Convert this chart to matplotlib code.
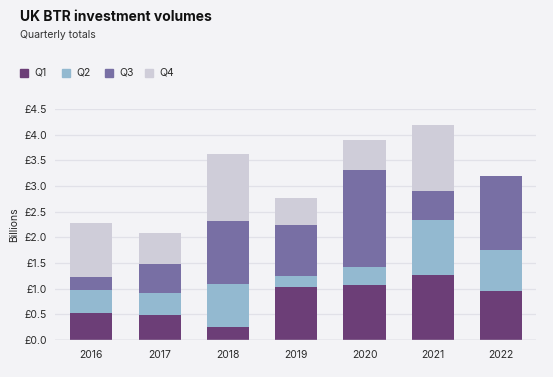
import matplotlib
matplotlib.use("Agg")
import matplotlib.pyplot as plt
from matplotlib.patches import Rectangle

# ── Data (billions £) ──────────────────────────────────────────────────
YEARS = ["2016", "2017", "2018", "2019", "2020", "2021", "2022"]
Q1 = [0.53, 0.48, 0.25, 1.04, 1.08, 1.27, 0.95]
Q2 = [0.44, 0.44, 0.85, 0.21, 0.34, 1.07, 0.80]
Q3 = [0.26, 0.57, 1.22, 0.99, 1.89, 0.56, 1.44]
Q4 = [1.04, 0.60, 1.30, 0.53, 0.59, 1.29, 0.00]
SERIES = ["Q1", "Q2", "Q3", "Q4"]
YTICKS = [0.0, 0.5, 1.0, 1.5, 2.0, 2.5, 3.0, 3.5, 4.0, 4.5]

COLORS = ["#6c3e77", "#93b9d0", "#786fa4", "#cfcdd9"]
BG = "#f3f3f6"
plt.rcParams["font.family"] = ["Inter", "DejaVu Sans"]

fig = plt.figure(figsize=(5.53, 3.77), dpi=100, facecolor=BG)
W, H = 553, 377
ax = fig.add_axes([55 / W, 1 - 340 / H, (536 - 55) / W, (340 - 109) / H])
ax.set_facecolor(BG)

x = range(len(YEARS))
bottom = [0.0] * len(YEARS)
for name, vals, col in zip(SERIES, [Q1, Q2, Q3, Q4], COLORS):
    ax.bar(x, vals, bottom=bottom, width=0.615, color=col, label=name, zorder=3)
    bottom = [b + v for b, v in zip(bottom, vals)]

ax.set_xlim(-0.53, 6.51)
ax.set_ylim(0, 4.5)
ax.set_yticks(YTICKS)
ax.set_yticklabels([f"£{t:.1f}" for t in YTICKS])
ax.set_xticks(list(x))
ax.set_xticklabels(YEARS)
ax.grid(axis="y", color="#e1e1e8", linewidth=0.9, zorder=0)
ax.axhline(0, color="#c9c9d2", linewidth=1.0, zorder=4)
for s in ax.spines.values():
    s.set_visible(False)
ax.tick_params(axis="both", length=0, labelsize=7.5, colors="#2a2a2a")
ax.tick_params(axis="x", pad=7)
ax.tick_params(axis="y", pad=6)
ax.set_ylabel("Billions", fontsize=7.5, color="#2a2a2a", labelpad=3.5)

# ── Titles ────────────────────────────────────────────────────────────
fig.text(20 / W, 1 - 17 / H, "UK BTR investment volumes", fontsize=10,
         fontweight="bold", color="#111111", va="center", ha="left")
fig.text(20 / W, 1 - 35 / H, "Quarterly totals", fontsize=7.5,
         color="#333333", va="center", ha="left")

# ── Legend ────────────────────────────────────────────────────────────
lx = [20, 62, 105, 145]
for px, name, col in zip(lx, SERIES, COLORS):
    fig.patches.append(Rectangle((px / W, 1 - 77 / H), 8 / W, 8 / H,
                                 transform=fig.transFigure, color=col))
    fig.text((px + 14) / W, 1 - 73 / H, name, fontsize=7.5, color="#2a2a2a",
             va="center", ha="left")

fig.savefig("out.png", dpi=100, facecolor=BG)
